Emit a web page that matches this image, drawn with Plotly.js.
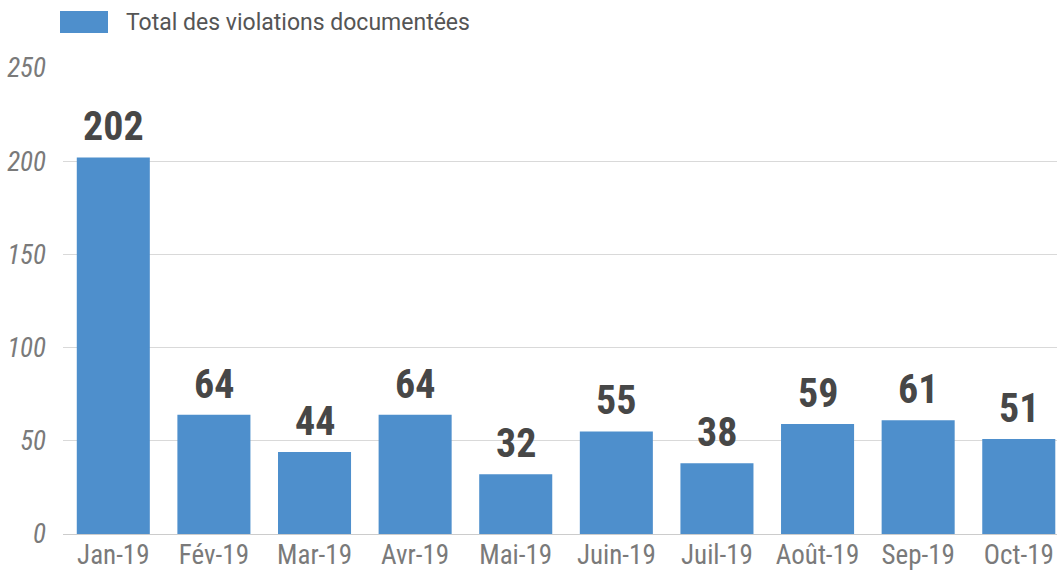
<!DOCTYPE html>
<html><head><meta charset="utf-8">
<script src="https://cdn.plot.ly/plotly-3.0.1.min.js"></script>
<style>html,body{margin:0;padding:0;background:#fff;}</style>
</head><body>
<div id="chart" style="width:1057px;height:570px;"></div>
<script>
const categories = ["Jan-19","Fév-19","Mar-19","Avr-19","Mai-19","Juin-19","Juil-19","Août-19","Sep-19","Oct-19"];
const values = [202, 64, 44, 64, 32, 55, 38, 59, 61, 51];
const seriesName = "Total des violations documentées";
const yTicks = [0, 50, 100, 150, 200, 250];

const condensed = "'Roboto Condensed', 'Liberation Sans Narrow', 'DejaVu Sans Condensed', Roboto, sans-serif";

const trace = {
  type: 'bar', x: categories, y: values, name: seriesName,
  marker: {color: '#4e8fcc'}, hoverinfo: 'x+y', showlegend: false
};

const annotations = categories.map((c, i) => ({
  x: c, y: values[i], xref: 'x', yref: 'y', text: '<b>' + values[i] + '</b>',
  showarrow: false, yanchor: 'bottom', yshift: 5,
  font: {family: condensed, size: 40, color: '#474747'}
}));

const plotH = 570 - 68 - 36;
annotations.push({
  xref: 'paper', yref: 'paper', x: (124 - 63) / 994, y: (570 - 36 - 22) / plotH,
  xanchor: 'left', yanchor: 'middle', showarrow: false, text: seriesName,
  font: {family: 'Roboto, sans-serif', size: 23, color: '#555555'}
});

const layout = {
  width: 1057, height: 570,
  margin: {l: 63, r: 0, t: 68, b: 36},
  paper_bgcolor: '#fff', plot_bgcolor: '#fff',
  bargap: 0.274,
  showlegend: false,
  xaxis: {
    type: 'category', range: [-0.5, 9.38], showgrid: false, zeroline: false,
    showline: false, ticks: '', ticklabelstandoff: 2,
    tickfont: {family: condensed, size: 27, color: '#7a7a7a'}
  },
  yaxis: {
    range: [0, 250], tickvals: yTicks, ticktext: yTicks.map(v => '<i>' + v + '</i>'),
    showgrid: true, gridcolor: '#d9d9d9', gridwidth: 1.3, zeroline: true, zerolinecolor: '#cccccc', zerolinewidth: 1.3,
    showline: false, ticks: '', ticklabelstandoff: 16,
    tickfont: {family: condensed, size: 27, color: '#7a7a7a'}
  },
  shapes: [{
    type: 'rect', xref: 'paper', yref: 'paper',
    x0: -3/994, x1: 45/994,
    y0: (570 - 36 - 33) / plotH, y1: (570 - 36 - 11) / plotH,
    fillcolor: '#4e8fcc', line: {width: 0}
  }],
  annotations: annotations
};

Plotly.newPlot('chart', [trace], layout, {displayModeBar: false, responsive: false});
</script>
</body></html>
